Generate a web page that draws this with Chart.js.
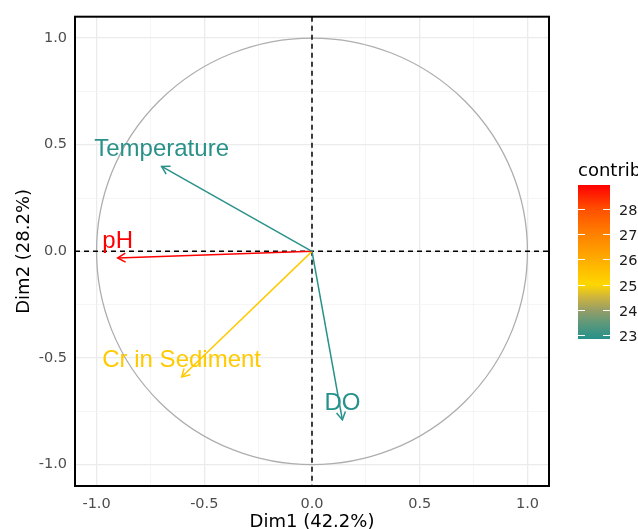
<!DOCTYPE html>
<html>
<head>
<meta charset="utf-8">
<script src="https://cdn.jsdelivr.net/npm/chart.js@4.4.0/dist/chart.umd.min.js"></script>
<style>
  html, body { margin: 0; padding: 0; background: #fff; }
  #wrap { width: 638px; height: 529px; }
</style>
</head>
<body>
<div id="wrap"><canvas id="pcaChart" width="638" height="529"></canvas></div>
<script>
// Variables on the correlation circle (coordinates on Dim1 / Dim2)
const variables = ["Temperature", "pH", "Cr in Sediment", "DO"];
const dim1 = [-0.698, -0.902, -0.605, 0.141];
const dim2 = [0.398, -0.031, -0.589, -0.790];
const contrib = [22.90, 28.93, 25.31, 22.86];

const majorTicks = [-1.0, -0.5, 0.0, 0.5, 1.0];
const minorTicks = [-0.75, -0.25, 0.25, 0.75];
const legendTicks = [23, 24, 25, 26, 27, 28];

// colour scale for contrib: teal -> gold (at 25) -> red
const colourStops = [
    [22.86, [38, 145, 138]],
    [23.5, [95, 152, 122]],
    [24.0, [150, 158, 102]],
    [24.5, [205, 180, 62]],
    [25.0, [255, 215, 0]],
    [26.0, [255, 172, 0]],
    [27.0, [255, 128, 0]],
    [28.0, [255, 78, 0]],
    [28.93, [255, 0, 0]]
];

function contribColor(v) {
    if (v <= colourStops[0][0]) return "rgb(" + colourStops[0][1].join(",") + ")";
    for (let i = 1; i < colourStops.length; i++) {
        const [v1, c1] = colourStops[i];
        const [v0, c0] = colourStops[i - 1];
        if (v <= v1) {
            const t = (v - v0) / (v1 - v0);
            const c = c0.map((a, k) => Math.round(a + (c1[k] - a) * t));
            return "rgb(" + c.join(",") + ")";
        }
    }
    return "rgb(" + colourStops[colourStops.length - 1][1].join(",") + ")";
}

const allTicks = majorTicks.concat(minorTicks).sort((a, b) => a - b);
const tickFont = { family: "DejaVu Sans", size: 14.5 };

const pcaDecor = {
    id: "pcaDecor",
    beforeDatasetsDraw(chart) {
        const ctx = chart.ctx;
        const area = chart.chartArea;
        const xs = chart.scales.x, ys = chart.scales.y;
        const cx = xs.getPixelForValue(0), cy = ys.getPixelForValue(0);
        ctx.save();
        ctx.beginPath();
        ctx.rect(area.left, area.top, area.right - area.left, area.bottom - area.top);
        ctx.clip();
        // unit circle
        ctx.strokeStyle = "#aeaeae";
        ctx.lineWidth = 1.3;
        ctx.beginPath();
        ctx.ellipse(cx, cy, xs.getPixelForValue(1) - cx, cy - ys.getPixelForValue(1), 0, 0, Math.PI * 2);
        ctx.stroke();
        // zero lines
        ctx.strokeStyle = "#000";
        ctx.lineWidth = 1.5;
        ctx.setLineDash([5, 4]);
        ctx.beginPath();
        ctx.moveTo(area.left, cy); ctx.lineTo(area.right, cy);
        ctx.moveTo(cx, area.top); ctx.lineTo(cx, area.bottom);
        ctx.stroke();
        ctx.restore();
    },
    afterDatasetsDraw(chart) {
        const ctx = chart.ctx;
        const area = chart.chartArea;
        ctx.save();
        // arrow heads and labels
        chart.data.datasets.forEach((ds, i) => {
            const pts = chart.getDatasetMeta(i).data;
            const p0 = pts[0], p1 = pts[1];
            const ang = Math.atan2(p1.y - p0.y, p1.x - p0.x);
            const len = 9, spread = Math.PI / 6;
            ctx.strokeStyle = ds.borderColor;
            ctx.lineWidth = 1.5;
            ctx.beginPath();
            ctx.moveTo(p1.x - len * Math.cos(ang - spread), p1.y - len * Math.sin(ang - spread));
            ctx.lineTo(p1.x, p1.y);
            ctx.lineTo(p1.x - len * Math.cos(ang + spread), p1.y - len * Math.sin(ang + spread));
            ctx.stroke();
            ctx.fillStyle = ds.borderColor;
            ctx.font = "24px 'Liberation Sans'";
            ctx.textAlign = "center";
            ctx.textBaseline = "alphabetic";
            ctx.fillText(ds.label, p1.x, p1.y - 10);
        });
        // panel border
        ctx.strokeStyle = "#000";
        ctx.lineWidth = 2;
        ctx.strokeRect(area.left, area.top, area.right - area.left, area.bottom - area.top);

        // colour bar legend
        const minC = Math.min(...contrib), maxC = Math.max(...contrib);
        const barLeft = 578, barRight = 610, barTop = 185, barBottom = 339;
        const grad = ctx.createLinearGradient(0, barBottom, 0, barTop);
        colourStops.forEach(([v]) => {
            const t = Math.min(1, Math.max(0, (v - minC) / (maxC - minC)));
            grad.addColorStop(t, contribColor(v));
        });
        ctx.fillStyle = grad;
        ctx.fillRect(barLeft, barTop, barRight - barLeft, barBottom - barTop);
        ctx.strokeStyle = "#fff";
        ctx.lineWidth = 1;
        ctx.fillStyle = "#1a1a1a";
        ctx.font = "14.5px 'DejaVu Sans'";
        ctx.textAlign = "left";
        ctx.textBaseline = "middle";
        legendTicks.forEach(v => {
            const y = Math.round(barBottom - (v - minC) / (maxC - minC) * (barBottom - barTop)) + 0.5;
            ctx.beginPath();
            ctx.moveTo(barLeft, y); ctx.lineTo(barLeft + 7, y);
            ctx.moveTo(barRight - 7, y); ctx.lineTo(barRight, y);
            ctx.stroke();
            ctx.fillText(String(v), 619, y + 1.5);
        });
        ctx.fillStyle = "#000";
        ctx.font = "18px 'DejaVu Sans'";
        ctx.textBaseline = "alphabetic";
        ctx.fillText("contrib", 578, 176);
        ctx.restore();
    }
};

function gridWidth(c) {
    const v = c.tick ? c.tick.value : 0;
    return majorTicks.some(m => Math.abs(m - v) < 1e-9) ? 1.3 : 0.8;
}
function gridColor(c) {
    const v = c.tick ? c.tick.value : 0;
    return majorTicks.some(m => Math.abs(m - v) < 1e-9) ? "#ebebeb" : "#f2f2f2";
}
function tickLabel(value) {
    return majorTicks.some(m => Math.abs(m - value) < 1e-9) ? value.toFixed(1) : "";
}

new Chart(document.getElementById("pcaChart"), {
    type: "scatter",
    data: {
        datasets: variables.map((name, i) => ({
            label: name,
            data: [{ x: 0, y: 0 }, { x: dim1[i], y: dim2[i] }],
            showLine: true,
            borderColor: contribColor(contrib[i]),
            borderWidth: 1.5,
            pointRadius: 0,
            fill: false
        }))
    },
    options: {
        responsive: false,
        animation: false,
        layout: { padding: { top: 12, right: 89, left: 0, bottom: 0 } },
        plugins: { legend: { display: false }, tooltip: { enabled: false } },
        scales: {
            x: {
                type: "linear",
                min: -1.1,
                max: 1.1,
                afterBuildTicks: s => { s.ticks = allTicks.map(v => ({ value: v })); },
                afterFit: s => { s.height = 43; },
                border: { display: false },
                grid: { color: gridColor, lineWidth: gridWidth, drawTicks: false },
                ticks: { autoSkip: false, maxRotation: 0, padding: 10, color: "#4d4d4d", font: tickFont, callback: tickLabel },
                title: { display: true, text: "Dim1 (42.2%)", color: "#000", padding: { top: 0, bottom: -2 },
                         font: { family: "DejaVu Sans", size: 18, lineHeight: 1 } }
            },
            y: {
                type: "linear",
                min: -1.1,
                max: 1.1,
                afterBuildTicks: s => { s.ticks = allTicks.map(v => ({ value: v })); },
                afterFit: s => { s.width = 75; },
                border: { display: false },
                grid: { color: gridColor, lineWidth: gridWidth, drawTicks: false },
                ticks: { autoSkip: false, padding: 8, color: "#4d4d4d", font: tickFont, callback: tickLabel },
                title: { display: true, text: "Dim2 (28.2%)", color: "#000", padding: { top: 15, bottom: 0 },
                         font: { family: "DejaVu Sans", size: 18, lineHeight: 1 } }
            }
        }
    },
    plugins: [pcaDecor]
});
</script>
</body>
</html>
